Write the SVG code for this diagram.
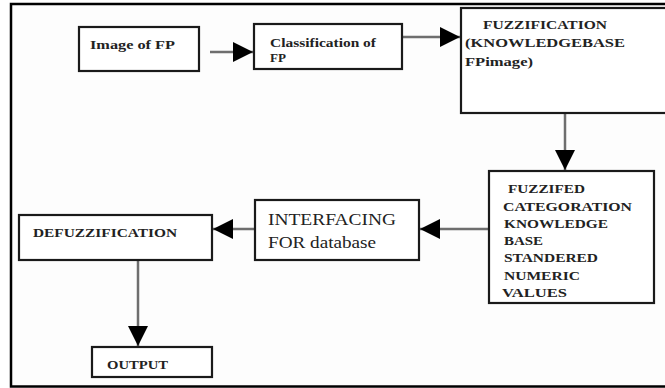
<svg xmlns="http://www.w3.org/2000/svg" width="665" height="388" viewBox="0 0 665 388">
  <defs>
    <style>
      .frame { fill: #fdfdfd; stroke: #000; stroke-width: 2.5; }
      .box { fill: #ffffff; stroke: #1a1a1a; stroke-width: 2.2; }
      .conn { stroke: #6e6e6e; stroke-width: 2.5; fill: none; marker-end: url(#ah); }
      text { font-family: 'Liberation Serif', 'Times New Roman', serif; fill: #222; }
      .tb { font-weight: bold; font-size: 12px; }
      .tr { font-size: 16px; }
    </style>
    <marker id="ah" viewBox="0 0 20 20" markerWidth="20" markerHeight="20" refX="20" refY="10" orient="auto" markerUnits="userSpaceOnUse">
      <path d="M0,0 L20,10 L0,20 Z" fill="#000"/>
    </marker>
  </defs>

  <rect class="frame" x="11" y="4" width="680" height="382.5"/>

  <g id="connectors">
    <line class="conn" x1="210" y1="52" x2="253" y2="52"/>
    <line class="conn" x1="402" y1="37" x2="460" y2="37"/>
    <line class="conn" x1="565" y1="113" x2="565" y2="170"/>
    <line class="conn" x1="489" y1="229" x2="420" y2="229"/>
    <line class="conn" x1="255" y1="229" x2="213" y2="229"/>
    <line class="conn" x1="138" y1="260" x2="138" y2="346"/>
  </g>

  <g id="image-of-fp">
    <rect class="box" x="79" y="27" width="120" height="44"/>
    <text class="tb" x="90" y="49" textLength="85" lengthAdjust="spacingAndGlyphs">Image of FP</text>
  </g>

  <g id="classification">
    <rect class="box" x="254" y="24" width="148" height="45"/>
    <text class="tb" x="270" y="47" textLength="106" lengthAdjust="spacingAndGlyphs">Classification of</text>
    <text class="tb" x="270" y="62" textLength="16" lengthAdjust="spacingAndGlyphs">FP</text>
  </g>

  <g id="fuzzification">
    <rect class="box" x="461" y="8" width="220" height="105"/>
    <text class="tb" x="483" y="29" textLength="124" lengthAdjust="spacingAndGlyphs">FUZZIFICATION</text>
    <text class="tb" x="465" y="47" textLength="160" lengthAdjust="spacingAndGlyphs">(KNOWLEDGEBASE</text>
    <text class="tb" x="465" y="66" textLength="68" lengthAdjust="spacingAndGlyphs">FPimage)</text>
  </g>

  <g id="fuzzified">
    <rect class="box" x="489" y="171" width="165" height="132"/>
    <text class="tb" x="508" y="193" textLength="77" lengthAdjust="spacingAndGlyphs">FUZZIFED</text>
    <text class="tb" x="503" y="211" textLength="129" lengthAdjust="spacingAndGlyphs">CATEGORATION</text>
    <text class="tb" x="504" y="228" textLength="104" lengthAdjust="spacingAndGlyphs">KNOWLEDGE</text>
    <text class="tb" x="504" y="245" textLength="39" lengthAdjust="spacingAndGlyphs">BASE</text>
    <text class="tb" x="504" y="262" textLength="94" lengthAdjust="spacingAndGlyphs">STANDERED</text>
    <text class="tb" x="504" y="280" textLength="76" lengthAdjust="spacingAndGlyphs">NUMERIC</text>
    <text class="tb" x="502" y="297" textLength="65" lengthAdjust="spacingAndGlyphs">VALUES</text>
  </g>

  <g id="interfacing">
    <rect class="box" x="255" y="200" width="164" height="60"/>
    <text class="tr" x="268" y="225" textLength="128" lengthAdjust="spacingAndGlyphs">INTERFACING</text>
    <text class="tr" x="268" y="248" textLength="108" lengthAdjust="spacingAndGlyphs">FOR database</text>
  </g>

  <g id="defuzzification">
    <rect class="box" x="19" y="215" width="193" height="45"/>
    <text class="tb" x="33" y="237" textLength="144" lengthAdjust="spacingAndGlyphs">DEFUZZIFICATION</text>
  </g>

  <g id="output">
    <rect class="box" x="92" y="347" width="120" height="30"/>
    <text class="tb" x="107" y="369" textLength="61" lengthAdjust="spacingAndGlyphs">OUTPUT</text>
  </g>
</svg>
